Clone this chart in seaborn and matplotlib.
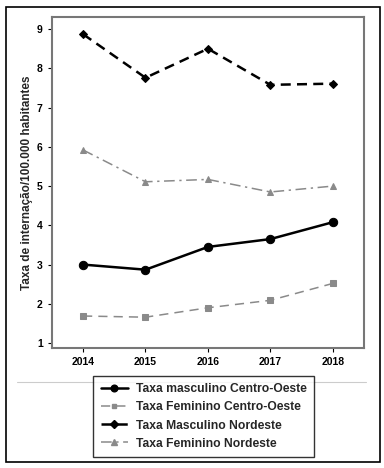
import pandas as pd
import matplotlib
matplotlib.use("Agg")
import matplotlib.pyplot as plt
import matplotlib.lines as mlines
import matplotlib.patches as mpatches
import seaborn as sns

# Data
anos = [2014, 2015, 2016, 2017, 2018]
masc_co = [3.00, 2.87, 3.45, 3.65, 4.08]
fem_co = [1.69, 1.66, 1.90, 2.09, 2.52]
masc_ne = [8.87, 7.76, 8.50, 7.58, 7.61]
fem_ne = [5.92, 5.11, 5.17, 4.85, 5.00]
series_names = [
    "Taxa masculino Centro-Oeste",
    "Taxa Feminino Centro-Oeste",
    "Taxa Masculino Nordeste",
    "Taxa Feminino Nordeste",
]
y_ticks = [1, 2, 3, 4, 5, 6, 7, 8, 9]

sns.set_style("white")
plt.rcParams["font.family"] = ["Liberation Sans", "DejaVu Sans"]
plt.rcParams["font.weight"] = "bold"

styles = [
    dict(color="black", linestyle="-", marker="o", markersize=6, linewidth=1.8),
    dict(color="#8a8a8a", linestyle=(0, (6, 4)), marker="s", markersize=4, linewidth=1.1),
    dict(color="black", linestyle=(0, (4, 2.5)), marker="D", markersize=4.5, linewidth=1.8),
    dict(color="#8a8a8a", linestyle=(0, (7, 3, 1.5, 3)), marker="^", markersize=5, linewidth=1.1),
]
all_values = [masc_co, fem_co, masc_ne, fem_ne]

fig = plt.figure(figsize=(3.84, 4.68), dpi=100)
ax = fig.add_axes([0.135, 0.256, 0.813, 0.707])

for name, vals, st in zip(series_names, all_values, styles):
    df = pd.DataFrame({"ano": anos, "taxa": vals})
    sns.lineplot(data=df, x="ano", y="taxa", ax=ax, color=st["color"],
                 linestyle=st["linestyle"], linewidth=st["linewidth"],
                 marker=st["marker"], markersize=st["markersize"],
                 markeredgecolor=st["color"], label=name, legend=False)

ax.set_xlim(2013.5, 2018.5)
ax.set_ylim(0.87, 9.3)
ax.set_xticks(anos)
ax.set_yticks(y_ticks)
ax.tick_params(axis="both", labelsize=7.5, length=3, width=0.8, direction="out",
               left=True, bottom=True, colors="black")
for lab in ax.get_xticklabels() + ax.get_yticklabels():
    lab.set_fontweight("bold")
ax.set_xlabel("")
ax.set_ylabel("Taxa de internação/100.000 habitantes", fontsize=8.5,
              fontweight="bold", labelpad=3)
for sp in ax.spines.values():
    sp.set_color("#777777")
    sp.set_linewidth(1.5)

# separator line and outer border
fig.add_artist(mlines.Line2D([17 / 384, 366 / 384], [1 - 382 / 468, 1 - 382 / 468],
                             color="#cccccc", linewidth=0.8))
fig.add_artist(mpatches.Rectangle((6 / 384, 1 - 462 / 468), 374 / 384, 455 / 468,
                                  fill=False, edgecolor="black", linewidth=1.2))

handles = [mlines.Line2D([], [], color=st["color"], linestyle=st["linestyle"],
                         linewidth=st["linewidth"], marker=st["marker"],
                         markersize=st["markersize"] * 0.8) for st in styles]
leg = fig.legend(handles, series_names, loc="center", bbox_to_anchor=(0.53, 0.11),
                 fontsize=8.7, frameon=True, fancybox=False, handlelength=2.3,
                 borderpad=0.6, labelspacing=0.5, handletextpad=0.6)
leg.get_frame().set_edgecolor("black")
leg.get_frame().set_linewidth(1.0)
for t in leg.get_texts():
    t.set_fontweight("bold")

fig.savefig("out.png", dpi=100)
